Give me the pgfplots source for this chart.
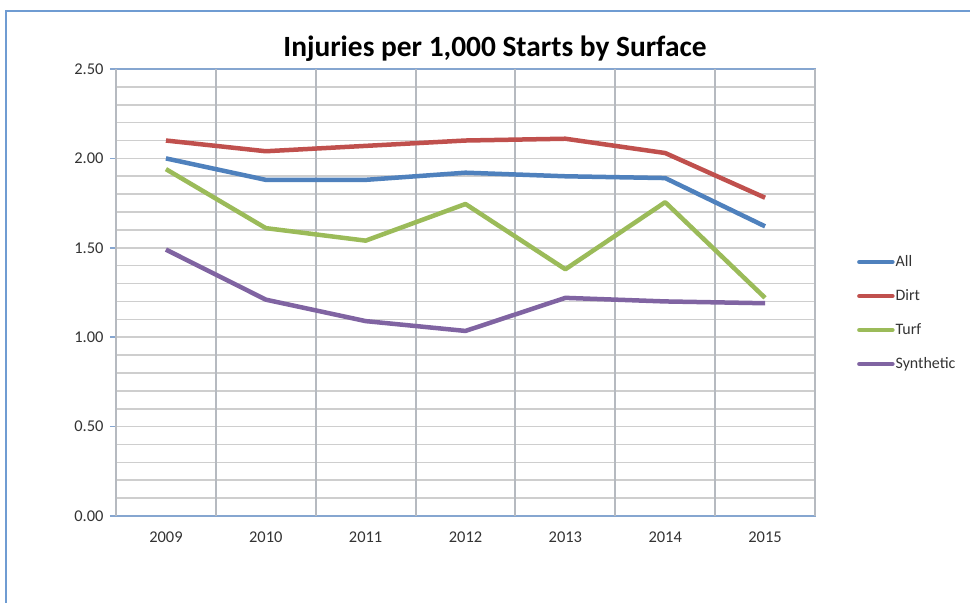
\documentclass[border=0pt]{standalone}
\usepackage{fontspec}
\setmainfont{Carlito}
\usepackage{pgfplots}
\pgfplotsset{compat=1.18}

\definecolor{cAll}{HTML}{4F81BD}
\definecolor{cDirt}{HTML}{C0504D}
\definecolor{cTurf}{HTML}{9BBB59}
\definecolor{cSyn}{HTML}{8064A2}
\definecolor{framecol}{HTML}{6F9CD2}
\definecolor{axiscol}{HTML}{86A6D0}
\definecolor{gridcol}{HTML}{CECECE}
\definecolor{vgridcol}{HTML}{B6BAC0}

\begin{document}
\begin{tikzpicture}
\path[use as bounding box, clip] (0,0) rectangle (970bp,603bp);
\fill[white] (0,0) rectangle (970bp,603bp);
\draw[framecol, line width=2bp] (6bp,-20bp) -- (6bp,592bp) -- (990bp,592bp);
\node[font=\bfseries\fontsize{29.5}{34}\selectfont] at (495bp,554bp) {Injuries per 1,000 Starts by Surface};
\begin{axis}[
    at={(116bp,87bp)}, anchor=south west,
    scale only axis, width=699bp, height=447bp,
    xmin=0.5, xmax=7.5, ymin=0, ymax=2.5,
    xtick={1,...,7},
    xticklabels={2009,2010,2011,2012,2013,2014,2015},
    xtick style={draw=none},
    extra x ticks={0.5,1.5,...,7.5},
    extra x tick labels={},
    extra x tick style={xmajorgrids=true, tick style={draw=axiscol, line width=1.5bp}, major tick length=6bp},
    ytick={0,0.5,...,2.5},
    minor y tick num=4,
    ymajorgrids, yminorgrids,
    major grid style={gridcol, line width=1.6bp},
    minor grid style={gridcol, line width=1.6bp},
    x grid style={vgridcol, line width=2bp},
    tick align=outside,
    major tick length=6bp,
    minor tick length=0pt,
    tick pos=left,
    ytick style={draw=axiscol, line width=1.5bp},
    axis line style={axiscol, line width=2bp},
    ticklabel style={font=\fontsize{16.5}{19}\selectfont, text=black!80},
    yticklabel style={xshift=-3bp, /pgf/number format/.cd, fixed, fixed zerofill, precision=2, assume math mode=true},
    xticklabel style={yshift=-6bp},
    legend style={draw=none, fill=none, at={(1.06,0.454)}, anchor=west,
        font=\fontsize{16}{19}\selectfont, row sep=19.5bp, inner sep=0pt,
        nodes={inner sep=1pt, text=black!80}},
    legend cell align=left,
    legend image code/.code={\draw[#1, line width=4.5bp, line cap=round] (0bp,0bp) -- (33bp,0bp);},
    every axis plot/.append style={line width=4.5bp, line join=round},
]
\addplot[cAll] table[row sep=\\] {
x y \\ 1 2.00 \\ 2 1.88 \\ 3 1.88 \\ 4 1.92 \\ 5 1.90 \\ 6 1.89 \\ 7 1.62 \\
};
\addplot[cDirt] table[row sep=\\] {
x y \\ 1 2.10 \\ 2 2.04 \\ 3 2.07 \\ 4 2.10 \\ 5 2.11 \\ 6 2.03 \\ 7 1.78 \\
};
\addplot[cTurf] table[row sep=\\] {
x y \\ 1 1.94 \\ 2 1.61 \\ 3 1.54 \\ 4 1.745 \\ 5 1.38 \\ 6 1.755 \\ 7 1.22 \\
};
\addplot[cSyn] table[row sep=\\] {
x y \\ 1 1.49 \\ 2 1.21 \\ 3 1.09 \\ 4 1.035 \\ 5 1.22 \\ 6 1.20 \\ 7 1.19 \\
};
\legend{All,Dirt,Turf,Synthetic}
\end{axis}
\end{tikzpicture}
\end{document}
